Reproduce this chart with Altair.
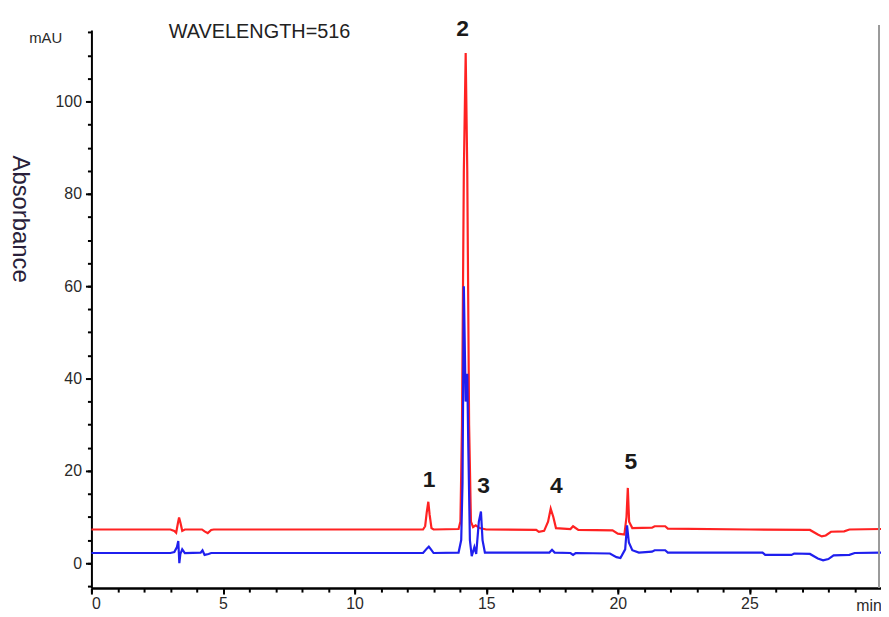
import altair as alt
import pandas as pd

# Chromatogram traces (time in min, absorbance in mAU)
red_t = [0, 3.0, 3.15, 3.22, 3.28, 3.33, 3.38, 3.45, 3.55, 4.2, 4.3, 4.42, 4.55, 4.65,
         12.6, 12.68, 12.74, 12.8, 12.85, 12.92, 13.0, 13.95, 14.02, 14.08, 14.15, 14.22,
         14.28, 14.35, 14.42, 14.5, 14.6, 14.75, 15.0, 16.9, 17.0, 17.2, 17.35, 17.45,
         17.55, 17.65, 18.2, 18.3, 18.5, 19.8, 20.0, 20.25, 20.33, 20.38, 20.43, 20.55,
         21.3, 21.4, 21.8, 21.9, 25.0, 27.3, 27.6, 27.75, 27.9, 28.1, 28.6, 28.8, 30]
red_v = [7.3, 7.3, 7.0, 6.6, 8.5, 9.9, 8.8, 7.0, 7.3, 7.3, 6.9, 6.5, 7.2, 7.3,
         7.3, 8.0, 11, 13.3, 10.5, 7.6, 7.3, 7.4, 9, 30, 85, 110.5,
         85, 30, 9, 7.8, 8.2, 7.6, 7.3, 7.2, 6.8, 7.0, 9, 11.8,
         10, 7.6, 7.4, 8.0, 7.2, 7.1, 6.4, 6.2, 10, 16.3, 9, 7.6,
         7.7, 8.0, 8.0, 7.5, 7.3, 7.2, 6.2, 5.8, 6.0, 6.8, 6.9, 7.3, 7.4]

blue_t = [0, 3.0, 3.15, 3.25, 3.3, 3.34, 3.38, 3.45, 3.55, 4.15, 4.22, 4.3, 4.45, 4.55,
          12.6, 12.75, 12.82, 12.9, 13.0, 13.95, 14.05, 14.1, 14.15, 14.22, 14.28, 14.32,
          14.38, 14.45, 14.55, 14.62, 14.72, 14.8, 14.86, 14.95, 17.4, 17.5, 17.6, 18.2,
          18.3, 18.4, 19.7, 19.95, 20.1, 20.28, 20.35, 20.42, 20.55, 20.8, 21.3, 21.4,
          21.8, 21.9, 25.5, 25.6, 26.6, 26.7, 27.3, 27.6, 27.8, 28.0, 28.2, 28.8, 29.0, 30]
blue_v = [2.2, 2.2, 2.4, 3.5, 4.8, 0.0, 2.0, 3.0, 2.2, 2.3, 2.8, 1.8, 2.0, 2.2,
          2.2, 3.2, 3.6, 3.0, 2.2, 2.3, 5, 17.5, 60, 35, 41, 25,
          5, 1.5, 3.5, 2, 9, 11.2, 5, 2.3, 2.3, 2.9, 2.3, 2.2,
          1.8, 2.2, 2.1, 1.3, 1.1, 3, 8.2, 4.5, 2.8, 2.3, 2.5, 2.8,
          2.8, 2.3, 2.3, 1.8, 1.8, 2.1, 2.0, 1.0, 0.6, 0.9, 1.7, 1.8, 2.2, 2.3]

peak_labels = ["1", "2", "3", "4", "5"]
peak_t = [12.83, 14.1, 14.9, 17.66, 20.5]
peak_v = [18.1, 115.7, 16.6, 16.8, 21.9]

x_major = [0, 5, 10, 15, 20, 25]
x_minor = list(range(0, 30))
y_major = [0, 20, 40, 60, 80, 100]
y_minor = list(range(-5, 116, 5))

W, H = 795, 562
FONT = "Liberation Sans"

traces = pd.concat([
    pd.DataFrame({"t": red_t, "v": red_v, "s": "red", "o": range(len(red_t))}),
    pd.DataFrame({"t": blue_t, "v": blue_v, "s": "blue", "o": range(len(blue_t))}),
])
peaks = pd.DataFrame({"t": peak_t, "v": peak_v, "lab": peak_labels})

xs = alt.Scale(domain=[0, 30], nice=False)
ys = alt.Scale(domain=[-5.4, 115.5], nice=False)

major_x_axis = alt.Axis(values=x_major, title=None, domainColor="black", domainWidth=2.5,
                        tickColor="black", tickWidth=2, tickSize=6, labelFont=FONT,
                        labelFontSize=16, labelColor="#2a2a2a", labelPadding=2, grid=False,
                        orient="bottom")
major_y_axis = alt.Axis(values=y_major, title="Absorbance", domainColor="black", domainWidth=2,
                        tickColor="black", tickWidth=2, tickSize=6, labelFont=FONT,
                        labelFontSize=16, labelColor="#2a2a2a", labelPadding=4, grid=False,
                        titleAngle=90, titleX=-72, titleY=190, titleAlign="center",
                        titleBaseline="middle", titleFont=FONT, titleFontSize=24,
                        titleFontWeight="normal", titleColor="#2a1f3a", orient="left")
minor_x_axis = alt.Axis(values=x_minor, title=None, labels=False, domain=False,
                        tickColor="black", tickWidth=2, tickSize=4, grid=False, orient="bottom")
minor_y_axis = alt.Axis(values=y_minor, title=None, labels=False, domain=False,
                        tickColor="black", tickWidth=2, tickSize=4, grid=False, orient="left")

lines = alt.Chart(traces).mark_line(strokeWidth=2.2).encode(
    x=alt.X("t:Q", scale=xs, axis=major_x_axis),
    y=alt.Y("v:Q", scale=ys, axis=major_y_axis),
    color=alt.Color("s:N", scale=alt.Scale(domain=["red", "blue"], range=["#ff2222", "#1f1fee"]),
                    legend=None),
    order="o:Q",
    detail="s:N",
)

minor = alt.Chart(traces).mark_point(opacity=0).encode(
    x=alt.X("t:Q", scale=xs, axis=minor_x_axis),
    y=alt.Y("v:Q", scale=ys, axis=minor_y_axis),
)

border = alt.Chart(pd.DataFrame({"a": [0]})).mark_rule(color="#9a9a9a", strokeWidth=2).encode(
    x=alt.value(W - 2), y=alt.value(-5), y2=alt.value(H)
)

labels = alt.Chart(peaks).mark_text(font=FONT, fontSize=23, fontWeight="bold", color="#1a1a1a",
                                    baseline="middle", align="center").encode(
    x=alt.X("t:Q", scale=xs, axis=None), y=alt.Y("v:Q", scale=ys, axis=None), text="lab:N"
)

ann = pd.DataFrame({"txt": ["WAVELENGTH=516"], "t": [2.94], "v": [115.0]})
wl = alt.Chart(ann).mark_text(font=FONT, fontSize=20, color="#222", align="left",
                              baseline="middle").encode(
    x=alt.X("t:Q", scale=xs, axis=None), y=alt.Y("v:Q", scale=ys, axis=None), text="txt:N"
)

mau = alt.Chart(pd.DataFrame({"txt": ["mAU"]})).mark_text(
    font=FONT, fontSize=15, color="#2a2a2a", align="center", baseline="middle").encode(
    x=alt.value(-46), y=alt.value(8), text="txt:N"
)

mins = alt.Chart(pd.DataFrame({"txt": ["min"], "t": [29.55]})).mark_text(
    font=FONT, fontSize=16, color="#2a2a2a", align="center", baseline="middle").encode(
    x=alt.X("t:Q", scale=xs, axis=None), y=alt.value(H + 18), text="txt:N"
)

chart = alt.layer(lines, minor, border, labels, wl, mau, mins).resolve_axis(
    x="independent", y="independent"
).properties(
    width=W, height=H,
    autosize=alt.AutoSizeParams(type="none"),
    padding={"left": 84, "top": 20, "right": 0, "bottom": 27},
    background="white",
).configure_view(stroke=None)

chart.save("out.html", embed_options={"renderer": "svg", "actions": False})
